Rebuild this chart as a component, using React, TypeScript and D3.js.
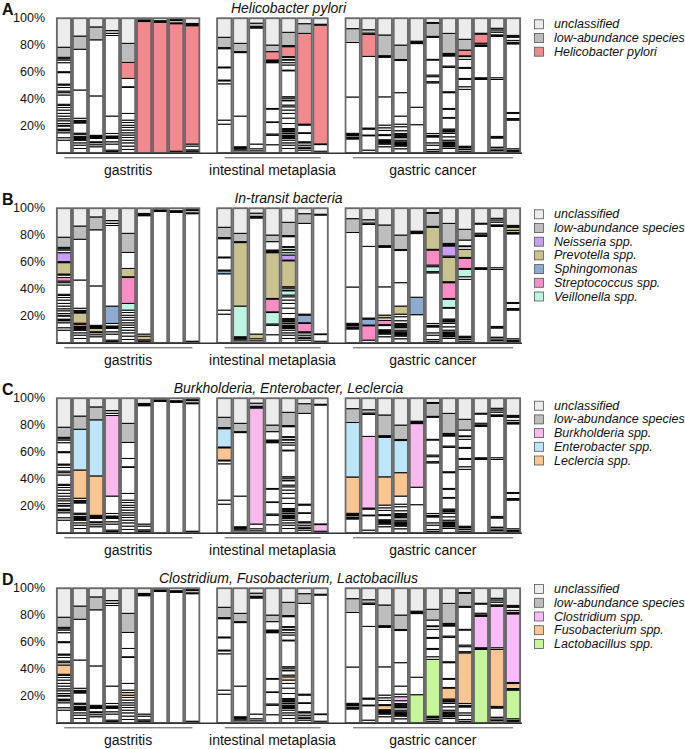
import React from "react";
import * as d3 from "d3";

type Seg = [string, number];

// ---- samples: [taxon, relative abundance %], bottom to top; remainder = unclassified
// gastritis
const G1: Seg[] = [["o",9.4],["o",1.8],["o",3.7],["o",1.5],["o",0.6],["o",0.6],["o",2.3],["o",0.6],["o",1.3],["o",2.0],["o",1.5],["o",2.0],["o",2.0],["o",2.5],["o",1.9],["o",1.5],["o",0.9],["F",6.9],["o",1.7],["o",1.2],["St",2.7],["o",1.8],["o",0.7],["P",8.5],["o",0.7],["N",6.7],["o",2.0],["V",1.0],["o",1.0],["low",7.5]];
const G2: Seg[] = [["o",3.2],["o",2.5],["o",1.7],["o",1.9],["o",0.6],["o",0.6],["o",0.6],["o",0.6],["o",0.6],["St",1.5],["o",0.8],["P",7.6],["o",0.7],["o",0.6],["o",0.6],["o",1.6],["Le",21.0],["E",30.3],["low",9.8]];
const G3: Seg[] = [["o",4.5],["o",1.5],["o",1.5],["o",0.7],["P",2.5],["o",0.6],["o",0.6],["o",0.6],["o",0.5],["Le",29.3],["E",41.7],["low",9.6]];
const G4: Seg[] = [["o",1.0],["o",1.0],["o",4.5],["o",1.7],["o",2.5],["o",0.6],["o",0.6],["o",0.6],["o",1.9],["Sp",12.9],["B",59.9],["o",1.5],["low",2.2]];
const G5: Seg[] = [["o",2.5],["o",2.5],["o",2.4],["o",2.0],["o",2.0],["o",1.8],["o",1.7],["o",2.0],["o",2.0],["o",1.6],["F",2.0],["o",1.8],["V",5.0],["St",19.3],["o",0.5],["P",6.2],["H",11.9],["low",14.2]];
const G6: Seg[] = [["o",0.6],["o",0.6],["o",1.0],["P",2.8],["o",1.5],["H",88.0],["o",0.6],["o",0.6],["low",0.5]];
const G7: Seg[] = [["H",97.6],["o",0.6],["o",0.6]];
const G8: Seg[] = [["H",97.0],["o",0.6],["o",0.6]];
const G9: Seg[] = [["o",0.6],["o",0.6],["H",94.8],["o",0.6],["low",1.8],["o",0.6]];
// intestinal metaplasia
const I1: Seg[] = [["o",21.3],["o",3.0],["o",27.0],["Sp",2.2],["o",0.6],["Le",9.1],["o",0.6],["E",13.6],["o",0.8],["low",7.7]];
const I2: Seg[] = [["o",1.5],["o",1.2],["o",0.6],["o",0.6],["o",0.6],["V",22.8],["P",47.2],["o",0.7],["low",6.2]];
const I3: Seg[] = [["o",1.5],["o",1.5],["P",3.5],["B",86.3],["o",0.6],["o",0.6],["low",2.4]];
const I4: Seg[] = [["o",6.0],["o",7.0],["o",1.0],["V",8.5],["o",0.5],["St",9.5],["o",0.5],["P",34.0],["o",0.6],["o",0.6],["o",0.8],["H",6.2],["low",4.9]];
const I5: Seg[] = [["o",3.2],["o",2.5],["o",1.7],["o",2.0],["o",1.3],["o",0.6],["o",0.6],["o",0.6],["o",0.7],["o",1.2],["o",1.2],["o",0.6],["o",0.6],["o",0.6],["o",0.7],["o",3.7],["o",4.0],["o",3.5],["o",2.5],["F",2.4],["o",1.3],["V",3.2],["o",0.5],["o",1.5],["St",1.0],["P",19.3],["o",0.5],["N",3.8],["o",1.7],["V",2.0],["o",0.5],["o",1.5],["o",0.5],["H",7.4],["o",0.8],["low",9.9]];
const I6: Seg[] = [["o",2.0],["o",1.2],["o",1.0],["o",1.5],["o",1.7],["o",0.8],["St",6.2],["o",0.5],["Sp",5.7],["o",0.7],["H",67.5],["low",7.2]];
const I7: Seg[] = [["o",1.2],["B",4.9],["o",0.5],["H",88.4],["o",0.6]];
// gastric cancer
const C1: Seg[] = [["o",10.3],["o",0.6],["o",0.6],["St",1.2],["o",0.7],["o",0.6],["o",0.5],["Le",27.0],["E",40.5],["low",10.3]];
const C2: Seg[] = [["o",2.0],["St",10.7],["o",0.5],["Sp",4.4],["o",0.8],["B",53.3],["H",16.3],["o",1.0],["low",2.5]];
const C3: Seg[] = [["o",4.5],["o",2.0],["o",0.6],["o",0.6],["o",0.6],["o",0.6],["o",0.8],["F",3.1],["o",0.7],["St",3.2],["o",1.9],["P",2.0],["Le",21.0],["E",29.4],["o",0.6],["o",0.6],["low",15.4]];
const C4: Seg[] = [["o",3.0],["o",2.0],["o",0.6],["o",0.6],["o",0.6],["o",0.6],["o",0.8],["o",1.2],["o",1.8],["o",0.6],["o",0.6],["o",0.8],["o",0.6],["o",0.6],["o",2.0],["C",3.0],["o",1.9],["P",6.0],["Le",17.4],["E",23.9],["o",0.8],["low",10.7]];
const C5: Seg[] = [["La",20.9],["Sp",13.0],["B",47.3],["o",0.6],["o",0.6],["low",0.6]];
const C6: Seg[] = [["o",0.6],["o",0.6],["o",1.3],["o",3.2],["o",1.7],["o",4.4],["o",0.6],["o",0.6],["o",1.4],["F",37.6],["o",0.9],["V",3.7],["o",1.2],["St",11.2],["o",0.5],["P",16.4],["o",0.7],["low",9.7],["o",0.6]];
const C7: Seg[] = [["o",3.2],["o",1.3],["o",0.6],["o",0.6],["o",0.6],["o",0.6],["o",0.6],["o",0.6],["o",1.3],["o",2.5],["o",2.5],["o",1.2],["o",0.6],["o",0.6],["o",0.9],["F",8.1],["o",0.5],["V",6.0],["o",0.7],["St",11.7],["o",0.7],["P",18.1],["o",1.0],["N",7.5],["o",0.7],["o",0.6],["o",0.6],["low",14.9]];
const C8: Seg[] = [["o",1.2],["o",1.3],["o",1.2],["o",0.6],["o",0.6],["La",42.3],["o",1.9],["V",5.5],["o",0.7],["St",7.5],["o",0.7],["P",6.0],["o",2.0],["o",0.6],["H",4.3],["low",8.0]];
const C9: Seg[] = [["La",54.5],["o",0.6],["o",0.7],["C",23.3],["o",0.6],["o",0.6],["o",1.2],["H",6.8],["o",0.6]];
const C10: Seg[] = [["o",1.5],["o",0.7],["o",1.5],["o",0.5],["o",6.8],["o",0.6],["o",0.6],["F",42.3],["o",1.3],["C",30.7],["o",0.6],["o",0.6],["o",2.0],["low",1.7],["o",1.2]];
const C11: Seg[] = [["o",0.6],["o",0.6],["o",0.6],["o",1.2],["La",21.3],["o",0.6],["o",0.6],["F",3.7],["o",0.8],["C",51.0],["o",0.6],["o",0.6],["o",1.4],["P",2.3],["o",0.7],["o",0.7]];

const gastritis = [G1, G2, G3, G4, G5, G6, G7, G8, G9];
const metaplasia = [I1, I2, I3, I4, I5, I6, I7];
const cancer = [C1, C2, C3, C4, C5, C6, C7, C8, C9, C10, C11];
const groupNames = ["gastritis", "intestinal metaplasia", "gastric cancer"];

// sample order per panel
const gastritisOrders = [[0,1,2,3,4,6,7,8,5],[0,1,2,3,4,5,6,7,8],[0,1,2,3,4,5,6,7,8],[0,1,2,3,4,5,6,7,8]];
const metaplasiaOrders = [[0,1,2,3,4,5,6],[0,1,2,3,4,5,6],[0,1,2,3,4,5,6],[0,1,2,3,4,5,6]];
const cancerOrders = [[0,1,2,3,4,5,6,7,8,9,10],[0,1,2,3,4,5,6,7,8,9,10],[0,1,2,3,4,5,6,7,8,9,10],[0,1,2,3,4,7,6,5,8,9,10]];

const taxonCodes = ["unc","low","H","N","P","Sp","St","V","B","E","Le","C","F","La"];
const taxonNames = ["unclassified","low-abundance species","Helicobacter pylori","Neisseria spp.","Prevotella spp.","Sphingomonas","Streptococcus spp.","Veillonella spp.","Burkholderia spp.","Enterobacter spp.","Leclercia spp.","Clostridium spp.","Fusobacterium spp.","Lactobacillus spp."];
const taxonColors = ["#ececec","#bdbdbd","#f08a8f","#c99cf5","#c9c18e","#8eaad0","#fa8dc5","#bdf5e2","#f8b9ec","#bce6f8","#f9c592","#f8bdf8","#f9c592","#c6f59c"];

const panelLetters = ["A","B","C","D"];
const panelTitles = ["Helicobacter pylori","In-transit bacteria","Burkholderia, Enterobacter, Leclercia","Clostridium, Fusobacterium, Lactobacillus"];
const panelHighlights = [["H"],["N","P","Sp","St","V"],["B","E","Le"],["C","F","La"]];
const yTicks = [20, 40, 60, 80, 100];

const FONT = "'Liberation Sans', Arial, Helvetica, sans-serif";
const PANEL_TOP0 = 18.3;
const PANEL_STEP = 190;
const PANEL_H = 134.5;
const legendOffsets = [6, 6, 7.4, 0.8];
const LEGEND_STEP = 13.7;

const groups = [gastritis, metaplasia, cancer];
const slotKeys: string[] = [];
groups.forEach((g, gi) => {
  if (gi > 0) slotKeys.push(`gap${gi}`);
  g.forEach((_, j) => slotKeys.push(`${gi}-${j}`));
});
const x = d3.scaleBand<string>().domain(slotKeys).range([56, 521]).paddingInner(0.11).paddingOuter(0.05);
const colorOf = (code: string) => taxonColors[taxonCodes.indexOf(code)];

function Panel({ pi }: { pi: number }) {
  const top = PANEL_TOP0 + pi * PANEL_STEP;
  const y = d3.scaleLinear().domain([0, 100]).range([top + PANEL_H, top]);
  const hl = panelHighlights[pi];
  const orders = [gastritisOrders[pi], metaplasiaOrders[pi], cancerOrders[pi]];
  const bw = x.bandwidth();
  const base = y(0);

  const bars: JSX.Element[] = [];
  groups.forEach((g, gi) => {
    orders[gi].forEach((sIdx, j) => {
      const segs = g[sIdx];
      const x0 = x(`${gi}-${j}`) as number;
      let cum = 0;
      const rects: JSX.Element[] = [];
      segs.forEach(([code, v], k) => {
        const fill = code === "low" ? colorOf("low") : hl.includes(code) ? colorOf(code) : "#ffffff";
        rects.push(
          <rect key={k} x={x0} y={y(cum + v)} width={bw} height={y(cum) - y(cum + v)} fill={fill} stroke="#000" strokeWidth={1} />
        );
        cum += v;
      });
      rects.push(
        <rect key="unc" x={x0} y={y(100)} width={bw} height={y(cum) - y(100)} fill={colorOf("unc")} stroke="#000" strokeWidth={1} />
      );
      bars.push(
        <g key={`${gi}-${j}`}>
          {rects}
          <rect x={x0} y={y(100)} width={bw} height={y(0) - y(100)} fill="none" stroke="#6a6a6a" strokeWidth={1.7} />
        </g>
      );
    });
  });

  const legendCodes = ["unc", "low", ...hl];

  return (
    <g>
      <text x={2} y={top - 3} fontSize={16} fontWeight="bold" fontFamily={FONT} fill="#111">{panelLetters[pi]}</text>
      <text x={(56 + 521) / 2} y={top - 10.5} fontSize={14} fontStyle="italic" textAnchor="middle" dominantBaseline="central" fontFamily={FONT} fill="#111">{panelTitles[pi]}</text>
      {yTicks.map((t) => (
        <text key={t} x={45} y={y(t)} fontSize={12.5} textAnchor="end" dominantBaseline="central" fontFamily={FONT} fill="#111">{t}%</text>
      ))}
      {bars}
      <line x1={56} x2={522} y1={base + 0.5} y2={base + 0.5} stroke="#333" strokeWidth={1.6} />
      {groups.map((g, gi) => {
        const xa = x(`${gi}-0`) as number;
        const xb = (x(`${gi}-${g.length - 1}`) as number) + bw;
        return (
          <g key={gi}>
            <line x1={xa + 7.5} x2={xb - 7} y1={base + 5} y2={base + 5} stroke="#555" strokeWidth={1} />
            <text x={(xa + xb) / 2} y={base + 17.3} fontSize={14} textAnchor="middle" dominantBaseline="central" fontFamily={FONT} fill="#111">{groupNames[gi]}</text>
          </g>
        );
      })}
      {legendCodes.map((code, i) => {
        const cy = top + legendOffsets[pi] + i * LEGEND_STEP;
        return (
          <g key={code}>
            <rect x={534.5} y={cy - 4.5} width={9} height={9} fill={colorOf(code)} stroke="#555" strokeWidth={0.8} />
            <text x={554} y={cy} fontSize={12.5} fontStyle="italic" dominantBaseline="central" fontFamily={FONT} fill="#111">{taxonNames[taxonCodes.indexOf(code)]}</text>
          </g>
        );
      })}
    </g>
  );
}

export default function App() {
  return (
    <svg width={685} height={749} style={{ position: "absolute", left: 0, top: 0, background: "#fff" }}>
      {panelLetters.map((_, pi) => (
        <Panel key={pi} pi={pi} />
      ))}
    </svg>
  );
}
